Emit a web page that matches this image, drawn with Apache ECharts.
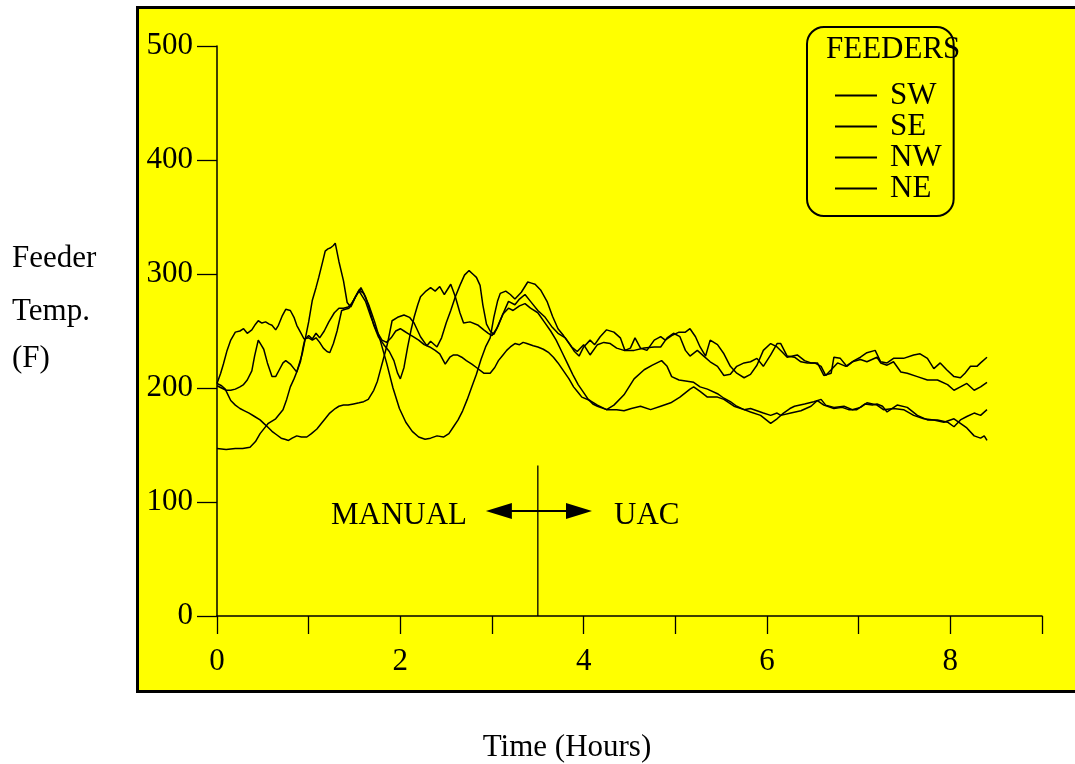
<!DOCTYPE html>
<html>
<head>
<meta charset="utf-8">
<title>Feeder Temperatures</title>
<script src="https://cdn.jsdelivr.net/npm/echarts@6/dist/echarts.min.js"></script>
<style>
  html, body { margin: 0; padding: 0; background: #ffffff; }
  #chart { width: 1075px; height: 764px; }
</style>
</head>
<body>
<div id="chart"></div>
<script>
// Feeder temperature traces, [hours, degrees F]
const seriesNames = ['SW', 'SE', 'NW', 'NE'];

const sw = [
  [0,147],[0.1,146],[0.2,147],[0.28,147],[0.36,148],[0.42,153],[0.47,160],[0.52,165],[0.56,169],[0.6,171],
  [0.64,173],[0.68,177],[0.72,181],[0.76,190],[0.8,201],[0.84,208],[0.87,214],[0.9,222],[0.93,230],[0.96,242],
  [1.0,258],[1.04,277],[1.08,288],[1.11,297],[1.15,310],[1.18,320],[1.21,322],[1.24,323],[1.27,325],[1.29,327],
  [1.33,311],[1.38,294],[1.42,275],[1.46,271],[1.5,278],[1.55,286],[1.6,283],[1.66,272],[1.72,258],[1.78,242],
  [1.85,222],[1.92,200],[1.99,182],[2.06,170],[2.13,162],[2.2,157],[2.27,155],[2.33,156],[2.4,158],[2.47,157],
  [2.53,160],[2.58,166],[2.63,172],[2.68,180],[2.73,190],[2.78,201],[2.83,212],[2.88,225],[2.93,236],[2.98,244],
  [3.02,262],[3.06,276],[3.09,283],[3.15,285],[3.2,282],[3.25,278],[3.32,284],[3.39,293],[3.43,292],[3.47,291],
  [3.53,286],[3.6,276],[3.66,263],[3.72,252],[3.78,246],[3.85,238],[3.9,232],[3.95,228],[4.0,236],[4.07,242],
  [4.12,238],[4.18,245],[4.25,251],[4.33,249],[4.4,244],[4.45,233],[4.51,235],[4.56,244],[4.62,235],[4.69,233],
  [4.77,242],[4.84,245],[4.89,242],[4.96,246],[5.04,249],[5.11,249],[5.16,252],[5.22,245],[5.27,236],[5.33,228],
  [5.38,242],[5.46,238],[5.53,230],[5.6,219],[5.67,213],[5.75,209],[5.82,212],[5.89,220],[5.96,233],[6.04,239],
  [6.11,236],[6.16,232],[6.22,227],[6.33,229],[6.41,224],[6.48,222],[6.55,222],[6.62,211],[6.7,213],[6.73,227],
  [6.8,226],[6.87,219],[6.95,224],[7.02,227],[7.09,231],[7.18,233],[7.24,223],[7.31,222],[7.38,226],[7.49,226],
  [7.6,229],[7.67,230],[7.75,226],[7.82,217],[7.89,222],[7.96,216],[8.04,210],[8.11,209],[8.16,213],[8.22,219],
  [8.29,219],[8.33,222],[8.4,227]
];

const se = [
  [0,204],[0.04,213],[0.07,221],[0.11,233],[0.15,242],[0.2,249],[0.25,250],[0.29,252],[0.33,248],[0.38,251],
  [0.42,256],[0.45,259],[0.49,257],[0.53,258],[0.57,256],[0.6,255],[0.64,251],[0.67,255],[0.71,263],[0.75,269],
  [0.8,268],[0.84,262],[0.87,255],[0.91,249],[0.95,243],[1.0,244],[1.04,242],[1.08,244],[1.12,240],[1.16,235],
  [1.2,232],[1.23,231],[1.27,239],[1.31,250],[1.36,268],[1.4,269],[1.44,270],[1.49,277],[1.53,283],[1.57,288],
  [1.62,280],[1.66,270],[1.71,255],[1.76,245],[1.82,238],[1.88,232],[1.93,224],[1.97,213],[2.0,208],[2.04,218],
  [2.08,236],[2.12,252],[2.15,262],[2.19,273],[2.22,280],[2.28,285],[2.33,288],[2.38,285],[2.43,289],[2.48,282],
  [2.55,291],[2.6,280],[2.65,266],[2.69,257],[2.76,258],[2.85,255],[2.91,251],[2.96,248],[3.0,246],[3.05,252],
  [3.12,265],[3.18,276],[3.25,273],[3.3,278],[3.36,282],[3.42,276],[3.5,268],[3.58,262],[3.65,254],[3.72,248],
  [3.8,244],[3.87,236],[3.93,232],[4.0,238],[4.07,229],[4.15,238],[4.22,240],[4.29,239],[4.36,235],[4.44,233],
  [4.55,233],[4.66,235],[4.77,236],[4.84,236],[4.91,244],[4.98,248],[5.05,245],[5.11,233],[5.16,228],[5.24,233],
  [5.31,228],[5.38,223],[5.46,219],[5.53,211],[5.6,212],[5.67,219],[5.75,222],[5.82,223],[5.89,226],[5.96,219],
  [6.04,229],[6.11,239],[6.15,239],[6.22,228],[6.3,227],[6.37,223],[6.44,222],[6.52,222],[6.59,219],[6.64,211],
  [6.7,216],[6.77,222],[6.86,219],[6.93,223],[7.02,225],[7.09,223],[7.2,227],[7.24,222],[7.31,220],[7.38,223],
  [7.46,214],[7.53,213],[7.64,210],[7.75,207],[7.86,207],[7.97,203],[8.04,198],[8.11,201],[8.18,204],[8.26,198],
  [8.33,201],[8.4,205]
];

const nw = [
  [0,202],[0.05,200],[0.1,198],[0.15,198],[0.2,199],[0.25,201],[0.29,203],[0.33,207],[0.38,215],[0.41,228],
  [0.45,242],[0.48,238],[0.51,234],[0.55,222],[0.6,210],[0.64,210],[0.68,216],[0.72,222],[0.75,224],[0.8,221],
  [0.84,217],[0.87,214],[0.91,223],[0.94,236],[0.96,243],[1.0,246],[1.04,243],[1.08,248],[1.12,244],[1.17,250],
  [1.22,258],[1.28,266],[1.33,270],[1.38,270],[1.43,271],[1.47,274],[1.51,280],[1.55,285],[1.62,276],[1.68,262],
  [1.74,250],[1.8,242],[1.85,240],[1.9,244],[1.95,250],[2.0,252],[2.04,250],[2.08,248],[2.14,245],[2.2,242],
  [2.26,238],[2.32,236],[2.38,233],[2.43,230],[2.49,221],[2.54,227],[2.58,229],[2.62,229],[2.67,227],[2.72,224],
  [2.78,221],[2.83,218],[2.91,213],[2.98,213],[3.03,218],[3.07,224],[3.12,229],[3.16,233],[3.2,236],[3.25,239],
  [3.3,238],[3.34,240],[3.38,239],[3.45,237],[3.5,236],[3.56,234],[3.62,231],[3.67,227],[3.72,222],[3.78,215],
  [3.84,208],[3.89,201],[3.94,196],[3.98,192],[4.07,189],[4.15,185],[4.25,181],[4.33,185],[4.44,194],[4.55,208],
  [4.66,216],[4.75,220],[4.8,222],[4.85,224],[4.91,219],[4.96,210],[5.04,207],[5.13,206],[5.2,205],[5.27,201],
  [5.35,199],[5.46,195],[5.53,191],[5.6,188],[5.67,184],[5.75,181],[5.82,182],[5.89,180],[5.96,178],[6.04,176],
  [6.11,178],[6.15,176],[6.26,178],[6.37,180],[6.48,184],[6.55,189],[6.62,185],[6.73,182],[6.82,183],[6.89,181],
  [6.98,181],[7.07,186],[7.15,185],[7.2,186],[7.26,184],[7.31,179],[7.42,185],[7.53,183],[7.64,176],[7.75,172],
  [7.86,172],[7.97,170],[8.04,166],[8.11,172],[8.18,175],[8.26,178],[8.33,176],[8.4,181]
];

const ne = [
  [0,204],[0.05,202],[0.09,199],[0.12,194],[0.15,189],[0.2,185],[0.25,182],[0.3,180],[0.35,178],[0.41,175],
  [0.47,172],[0.51,169],[0.55,166],[0.6,162],[0.65,159],[0.7,156],[0.74,155],[0.78,154],[0.82,156],[0.87,158],
  [0.92,157],[0.98,157],[1.03,160],[1.09,164],[1.14,169],[1.18,173],[1.23,178],[1.29,182],[1.33,184],[1.38,185],
  [1.43,185],[1.49,186],[1.55,187],[1.6,188],[1.65,190],[1.71,198],[1.75,206],[1.78,215],[1.82,227],[1.86,239],
  [1.91,259],[1.97,262],[2.04,264],[2.1,262],[2.15,257],[2.22,245],[2.29,237],[2.33,241],[2.4,236],[2.45,244],
  [2.5,257],[2.55,268],[2.6,280],[2.65,290],[2.7,299],[2.75,303],[2.79,300],[2.83,297],[2.87,290],[2.9,273],
  [2.94,256],[2.98,250],[3.02,247],[3.07,255],[3.12,265],[3.18,270],[3.23,268],[3.3,272],[3.36,274],[3.42,270],
  [3.5,266],[3.57,258],[3.64,250],[3.7,242],[3.76,232],[3.82,222],[3.88,212],[3.94,203],[4.0,196],[4.05,190],
  [4.1,186],[4.15,184],[4.25,181],[4.36,181],[4.44,180],[4.52,182],[4.62,184],[4.73,181],[4.84,184],[4.95,187],
  [5.05,192],[5.16,199],[5.2,201],[5.27,197],[5.35,192],[5.46,192],[5.53,190],[5.64,184],[5.75,181],[5.82,179],
  [5.93,176],[6.04,169],[6.11,173],[6.18,178],[6.25,182],[6.3,184],[6.41,186],[6.51,188],[6.59,190],[6.64,185],
  [6.73,183],[6.84,184],[6.93,181],[7.02,183],[7.09,187],[7.2,185],[7.27,181],[7.38,182],[7.49,181],[7.6,176],
  [7.71,173],[7.82,172],[7.93,170],[8.04,173],[8.11,169],[8.18,165],[8.26,158],[8.33,156],[8.37,158],[8.4,154]
];

// Axis ranges and labelled ticks
const xRange = [0, 9];
const yRange = [0, 500];
const xLabelled = [0, 2, 4, 6, 8];

// Changeover from manual to UAC control
const switchTime = 3.5;
const switchLineTop = 132;
const arrowSpan = [3.075, 3.949];
const arrowLevel = 92;

const FONT = '"Liberation Serif", "Times New Roman", Times, serif';
const FS = 31;

const chart = echarts.init(document.getElementById('chart'), null, { renderer: 'canvas' });

function trace(name, data) {
  return {
    name: name,
    type: 'line',
    data: data,
    symbol: 'none',
    showSymbol: false,
    smooth: false,
    silent: true,
    z: 3,
    itemStyle: { color: '#000' },
    lineStyle: { color: '#000', width: 1.5 }
  };
}

function text(str, x, y, align) {
  return {
    type: 'text',
    x: x, y: y,
    silent: true,
    z: 5,
    style: {
      text: str, font: FS + 'px ' + FONT, fill: '#000',
      textAlign: align || 'left', align: align || 'left',
      textVerticalAlign: 'middle', verticalAlign: 'middle'
    }
  };
}

const option = {
  animation: false,
  backgroundColor: '#ffffff',
  grid: { left: 217, right: 33, top: 46, bottom: 148, containLabel: false },
  xAxis: {
    type: 'value', min: xRange[0], max: xRange[1], interval: 1,
    axisLine: { show: true, onZero: false, lineStyle: { color: '#000', width: 1.5 } },
    axisTick: { show: true, length: 18, lineStyle: { color: '#000', width: 1.3 } },
    axisLabel: {
      margin: 30, fontFamily: FONT, fontSize: FS, color: '#000',
      formatter: function (v) { return xLabelled.indexOf(v) >= 0 ? String(v) : ''; }
    },
    splitLine: { show: false }
  },
  yAxis: {
    type: 'value', min: yRange[0], max: yRange[1], interval: 100,
    axisLine: { show: true, onZero: false, lineStyle: { color: '#000', width: 1.5 } },
    axisTick: { show: true, length: 20, lineStyle: { color: '#000', width: 1.3 } },
    axisLabel: { margin: 24, fontFamily: FONT, fontSize: FS, color: '#000', padding: [5, 0, 0, 0] },
    splitLine: { show: false }
  },
  legend: {
    data: seriesNames.map(function (n) { return { name: n, icon: 'rect' }; }),
    orient: 'vertical',
    left: 807, top: 27,
    padding: [53, 12, 12, 28],
    itemGap: 0, itemWidth: 42, itemHeight: 2,
    borderColor: '#000', borderWidth: 2, borderRadius: 17,
    selectedMode: false,
    itemStyle: { color: '#000', borderWidth: 0 },
    textStyle: { fontFamily: FONT, fontSize: FS, color: '#000', padding: [0, 0, 0, 8] }
  },
  graphic: [
    {
      type: 'rect', silent: true, z: -10,
      shape: { x: 137.5, y: 7.5, width: 1000, height: 684 },
      style: { fill: '#ffff00', stroke: '#000', lineWidth: 3 }
    },
    text('FEEDERS', 826, 50),
    text('Feeder', 12, 259),
    text('Temp.', 12, 312),
    text('(F)', 12, 359),
    text('Time (Hours)', 567, 748, 'center'),
    text('MANUAL', 467, 516, 'right'),
    text('UAC', 614, 516, 'left')
  ],
  series: [
    trace('SW', sw),
    trace('SE', se),
    trace('NW', nw),
    trace('NE', ne),
    {
      name: 'changeover',
      type: 'line',
      data: [[switchTime, yRange[0]], [switchTime, switchLineTop]],
      symbol: 'none',
      silent: true,
      z: 3,
      lineStyle: { color: '#000', width: 1.3 },
      markLine: {
        silent: true,
        symbol: ['triangle', 'triangle'],
        symbolSize: [16, 26],
        label: { show: false },
        lineStyle: { color: '#000', width: 2, type: 'solid' },
        data: [[{ coord: [arrowSpan[0], arrowLevel] }, { coord: [arrowSpan[1], arrowLevel] }]]
      }
    }
  ]
};

chart.setOption(option);
</script>
</body>
</html>
